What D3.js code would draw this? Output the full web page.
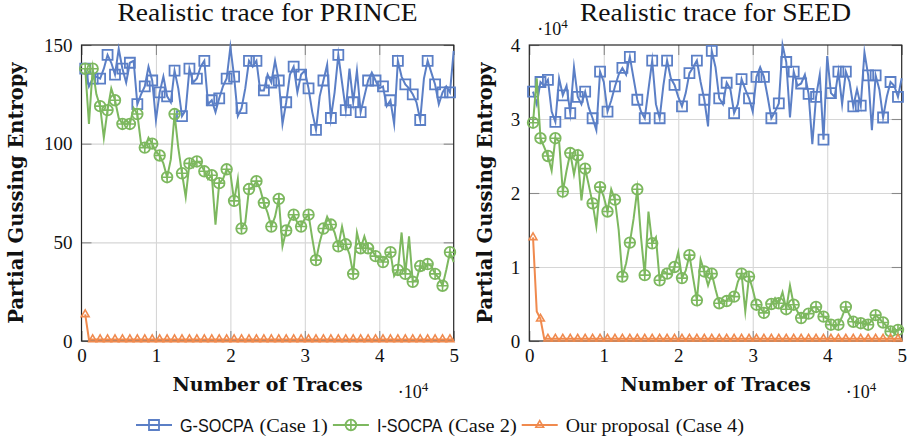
<!DOCTYPE html>
<html>
<head>
<meta charset="utf-8">
<script src="https://cdn.jsdelivr.net/npm/d3@7"></script>
<style>
  body { margin: 0; background: #fff; }
  svg { display: block; }
</style>
</head>
<body>
<svg id="chart" width="911" height="445"></svg>
<script>
// Number of traces at each sample point
const traces = [
  500,1000,1500,2000,2500,3000,3500,4000,4500,5000,
  5500,6000,6500,7000,7500,8000,8500,9000,9500,10000,
  10500,11000,11500,12000,12500,13000,13500,14000,14500,15000,
  15500,16000,16500,17000,17500,18000,18500,19000,19500,20000,
  20500,21000,21500,22000,22500,23000,23500,24000,24500,25000,
  25500,26000,26500,27000,27500,28000,28500,29000,29500,30000,
  30500,31000,31500,32000,32500,33000,33500,34000,34500,35000,
  35500,36000,36500,37000,37500,38000,38500,39000,39500,40000,
  40500,41000,41500,42000,42500,43000,43500,44000,44500,45000,
  45500,46000,46500,47000,47500,48000,48500,49000,49500,50000
];

// PRINCE: partial guessing entropy
const princeGSocpa = [
  138,129,133,134,133,138,145,141,135,148,138,131,141,142,120,125,129,139,132,112,
  126,134,124,121,137,128,114,117,138,131,133,139,142,120,122,116,123,129,133,149,
  134,114,118,128,142,139,142,127,127,135,131,142,132,110,121,135,139,126,135,137,
  128,116,107,124,132,140,113,126,145,131,117,138,121,137,116,124,132,136,132,128,
  129,119,122,110,142,134,130,128,125,121,112,133,142,136,130,120,126,129,126,147
];
const princeISocpa = [
  138,110,138,125,119,103,117,128,122,113,110,112,110,118,115,100,98,103,100,96,
  94,90,83,92,115,98,85,73,90,88,91,90,86,82,84,59,80,82,87,85,
  71,82,57,60,77,78,81,77,70,65,58,63,72,48,56,61,64,60,58,62,
  64,52,41,50,57,63,59,55,48,58,49,44,34,55,47,53,47,46,43,42,
  40,43,45,33,36,55,34,53,30,31,38,36,39,38,34,32,28,36,45,40
];
const princeOurs = [
  13.5,0.8,0.8,0.8,0.8,0.8,0.8,0.8,0.8,0.8,0.8,0.8,0.8,0.8,0.8,0.8,0.8,0.8,0.8,0.8,
  0.8,0.8,0.8,0.8,0.8,0.8,0.8,0.8,0.8,0.8,0.8,0.8,0.8,0.8,0.8,0.8,0.8,0.8,0.8,0.8,
  0.8,0.8,0.8,0.8,0.8,0.8,0.8,0.8,0.8,0.8,0.8,0.8,0.8,0.8,0.8,0.8,0.8,0.8,0.8,0.8,
  0.8,0.8,0.8,0.8,0.8,0.8,0.8,0.8,0.8,0.8,0.8,0.8,0.8,0.8,0.8,0.8,0.8,0.8,0.8,0.8,
  0.8,0.8,0.8,0.8,0.8,0.8,0.8,0.8,0.8,0.8,0.8,0.8,0.8,0.8,0.8,0.8,0.8,0.8,0.8,0.8
];

// SEED: partial guessing entropy, in units of 10^4
const seedGSocpa = [
  3.37,3.2,3.50,3.45,3.53,3.1,2.96,3.55,3.32,3.45,3.08,3.7,3.30,3.2,3.37,3.15,3.01,2.85,3.64,3.5,
  3.10,3.25,3.44,3.6,3.69,3.6,3.84,3.55,3.26,3.1,3.01,3.4,3.79,3.2,3.01,3.45,3.79,3.55,3.46,3.3,
  3.17,3.35,3.62,3.7,3.79,3.5,3.26,2.9,3.92,3.7,3.28,3.2,3.49,3.4,3.08,3.2,3.54,3.4,3.28,3.1,
  3.57,3.7,3.57,3.3,3.01,3.1,3.21,4.0,3.77,3.02,3.64,3.45,3.48,3.6,3.34,2.66,3.30,3.6,2.72,3.85,
  3.35,3.3,3.64,3.2,3.64,3.5,3.17,3.4,3.18,3.9,3.59,2.85,3.59,3.4,3.02,3.3,3.50,3.45,3.30,3.55
];
const seedISocpa = [
  2.95,3.55,2.74,2.62,2.50,2.3,2.74,2.7,2.02,2.3,2.54,2.25,2.51,1.9,2.33,2.1,1.86,1.55,2.08,1.95,
  1.75,2.05,1.91,1.5,0.87,1.05,1.33,1.65,2.05,1.4,0.89,1.75,1.32,1.4,0.82,0.95,0.91,0.9,1.00,1.2,
  0.85,0.95,1.16,0.85,0.55,1.1,0.94,0.75,0.91,0.7,0.51,0.55,0.54,0.62,0.60,0.8,0.91,0.4,0.87,0.7,
  0.49,0.45,0.38,0.42,0.50,0.58,0.51,0.66,0.43,0.75,0.49,0.4,0.31,0.34,0.37,0.45,0.46,0.4,0.33,0.3,
  0.22,0.2,0.22,0.33,0.46,0.35,0.26,0.25,0.24,0.28,0.22,0.28,0.35,0.3,0.25,0.2,0.13,0.12,0.15,0.2
];
const seedOurs = [
  1.4,0.4,0.3,0.03,0.03,0.03,0.03,0.03,0.03,0.03,0.03,0.03,0.03,0.03,0.03,0.03,0.03,0.03,0.03,0.03,
  0.03,0.03,0.03,0.03,0.03,0.03,0.03,0.03,0.03,0.03,0.03,0.03,0.03,0.03,0.03,0.03,0.03,0.03,0.03,0.03,
  0.03,0.03,0.03,0.03,0.03,0.03,0.03,0.03,0.03,0.03,0.03,0.03,0.03,0.03,0.03,0.03,0.03,0.03,0.03,0.03,
  0.03,0.03,0.03,0.03,0.03,0.03,0.03,0.03,0.03,0.03,0.03,0.03,0.03,0.03,0.03,0.03,0.03,0.03,0.03,0.03,
  0.03,0.03,0.03,0.03,0.03,0.03,0.03,0.03,0.03,0.03,0.03,0.03,0.03,0.03,0.03,0.03,0.03,0.03,0.03,0.03
];

// Axis ticks
const xTicks = [0, 10000, 20000, 30000, 40000, 50000];
const princeYTicks = [0, 50, 100, 150];
const seedYTicks = [0, 1, 2, 3, 4];

// Series labels
const methodNames = ["G-SOCPA", "I-SOCPA", "Our proposal"];
const methodSans = [true, true, false];
const caseNames = ["(Case 1)", "(Case 2)", "(Case 4)"];
const titles = ["Realistic trace for PRINCE", "Realistic trace for SEED"];

const COLORS = ["#5b7fc6", "#7db85f", "#f08a4e"];
const MARKS = ["square", "oplus", "triangle"];
const SERIF = "'Liberation Serif', serif";
const SERIF_BOLD = "'DejaVu Serif', 'Liberation Serif', serif";
const SANS = "'Liberation Sans', 'DejaVu Sans', sans-serif";

const svg = d3.select("#chart");

// widen/narrow a text run horizontally to the metrics of the document fonts
function stretch(sel, factor) {
  const w = sel.node().getComputedTextLength();
  sel.attr("textLength", w * factor).attr("lengthAdjust", "spacingAndGlyphs");
  return w * factor;
}

function drawMark(g, type, color) {
  if (type === "square") {
    g.append("path").attr("d", d3.symbol(d3.symbolSquare, 100)())
      .attr("fill", "none").attr("stroke", color).attr("stroke-width", 1.8);
  } else if (type === "oplus") {
    const r = 5.3;
    g.append("circle").attr("r", r)
      .attr("fill", "none").attr("stroke", color).attr("stroke-width", 1.8);
    g.append("path").attr("d", `M${-r},0H${r}M0,${-r}V${r}`)
      .attr("fill", "none").attr("stroke", color).attr("stroke-width", 1.6);
  } else {
    g.append("path").attr("d", d3.symbol(d3.symbolTriangle, 26)())
      .attr("fill", "none").attr("stroke", color).attr("stroke-width", 1.6);
  }
}

function panel(opts) {
  const { left, right, top, bottom, yDomain, yTicks, series, title, yExp, ylabelX } = opts;
  const x = d3.scaleLinear().domain([0, 50000]).range([left, right]);
  const y = d3.scaleLinear().domain(yDomain).range([bottom, top]);
  const g = svg.append("g");

  // grid
  g.append("g").attr("transform", `translate(0,${bottom})`)
    .call(d3.axisBottom(x).tickValues(xTicks.slice(1, -1)).tickSize(-(bottom - top)).tickFormat(""))
    .call(a => a.select(".domain").remove())
    .call(a => a.selectAll("line").attr("stroke", "#d6d6d6").attr("stroke-width", 1.1));
  g.append("g").attr("transform", `translate(${left},0)`)
    .call(d3.axisLeft(y).tickValues(yTicks.slice(1, -1)).tickSize(-(right - left)).tickFormat(""))
    .call(a => a.select(".domain").remove())
    .call(a => a.selectAll("line").attr("stroke", "#d6d6d6").attr("stroke-width", 1.1));

  // inner tick marks on all sides, labels on bottom/left
  const tickStyle = a => {
    a.select(".domain").remove();
    a.selectAll("line").attr("stroke", "#8a8a8a").attr("stroke-width", 1.1);
    a.selectAll("text").attr("font-family", SERIF).attr("font-size", 19).attr("fill", "#111");
  };
  g.append("g").attr("transform", `translate(0,${bottom})`)
    .call(d3.axisBottom(x).tickValues(xTicks).tickSizeInner(-10).tickSizeOuter(0).tickPadding(7.5)
      .tickFormat(d => d / 10000))
    .call(tickStyle);
  g.append("g").attr("transform", `translate(0,${top})`)
    .call(d3.axisTop(x).tickValues(xTicks).tickSizeInner(-10).tickSizeOuter(0).tickFormat(""))
    .call(tickStyle);
  g.append("g").attr("transform", `translate(${left},0)`)
    .call(d3.axisLeft(y).tickValues(yTicks).tickSizeInner(-10).tickSizeOuter(0).tickPadding(9)
      .tickFormat(d => String(d)))
    .call(tickStyle);
  g.append("g").attr("transform", `translate(${right},0)`)
    .call(d3.axisRight(y).tickValues(yTicks).tickSizeInner(-10).tickSizeOuter(0).tickFormat(""))
    .call(tickStyle);

  // frame
  g.append("rect").attr("x", left).attr("y", top).attr("width", right - left).attr("height", bottom - top)
    .attr("fill", "none").attr("stroke", "#262626").attr("stroke-width", 1.2);

  // series
  const line = d3.line().x(d => x(d[0])).y(d => y(d[1]));
  series.forEach((vals, si) => {
    const pts = traces.map((t, i) => [t, vals[i]]);
    const sg = g.append("g");
    sg.append("path").datum(pts).attr("d", line)
      .attr("fill", "none").attr("stroke", COLORS[si]).attr("stroke-width", 2)
      .attr("stroke-linejoin", "miter").attr("stroke-miterlimit", 10);
    pts.filter((p, i) => i % 2 === 0).forEach(p => {
      const mg = sg.append("g").attr("transform", `translate(${x(p[0])},${y(p[1])})`);
      drawMark(mg, MARKS[si], COLORS[si]);
    });
  });

  // title
  const cx = (left + right) / 2;
  const tt = svg.append("text").attr("x", cx).attr("y", 21).attr("text-anchor", "middle")
    .attr("font-family", SERIF).attr("font-size", 25).attr("fill", "#111").text(title);
  stretch(tt, 1.10);

  // axis labels
  svg.append("text").attr("x", cx).attr("y", 391).attr("text-anchor", "middle")
    .attr("font-family", SERIF_BOLD).attr("font-weight", "bold").attr("font-size", 19).attr("fill", "#111")
    .text("Number of Traces");
  svg.append("text").attr("transform", `translate(${ylabelX},${(top + bottom) / 2}) rotate(-90)`)
    .attr("text-anchor", "middle")
    .attr("font-family", SERIF_BOLD).attr("font-weight", "bold").attr("font-size", 19.5).attr("fill", "#111")
    .text("Partial Gussing Entropy");

  // ×10^4 multipliers
  const mult = (px, py) => {
    const t = svg.append("text").attr("x", px).attr("y", py)
      .attr("font-family", SERIF).attr("font-size", 18).attr("fill", "#111");
    t.append("tspan").text("\u00b710");
    t.append("tspan").attr("dy", -7).attr("font-size", 13).text("4");
  };
  mult(right - 56, 398);
  if (yExp) mult(left + 8, 35);
}

panel({ left: 81.5, right: 453.7, top: 45, bottom: 341, yDomain: [0, 150], yTicks: princeYTicks,
  series: [princeGSocpa, princeISocpa, princeOurs], title: titles[0], yExp: false, ylabelX: 23 });
panel({ left: 529.3, right: 901.7, top: 45, bottom: 341, yDomain: [0, 4], yTicks: seedYTicks,
  series: [seedGSocpa, seedISocpa, seedOurs], title: titles[1], yExp: true, ylabelX: 492 });

// legend
const legend = svg.append("g");
let cursor = 136;
const ly = 425;
methodNames.forEach((name, i) => {
  const item = legend.append("g").attr("transform", `translate(${cursor},0)`);
  item.append("line").attr("x1", 0).attr("x2", 36).attr("y1", ly).attr("y2", ly)
    .attr("stroke", COLORS[i]).attr("stroke-width", 2);
  drawMark(item.append("g").attr("transform", `translate(18,${ly})`), MARKS[i], COLORS[i]);
  const t1 = item.append("text").attr("x", 44).attr("y", ly + 6.5)
    .attr("font-family", methodSans[i] ? SANS : SERIF)
    .attr("font-size", 18).attr("fill", "#111").text(name);
  const w1 = stretch(t1, methodSans[i] ? 0.9 : 1.1);
  const gap = 6;
  const t2 = item.append("text").attr("x", 44 + w1 + gap).attr("y", ly + 6.5)
    .attr("font-family", SERIF).attr("font-size", 18.5).attr("fill", "#111").text(caseNames[i]);
  const w2 = stretch(t2, 1.1);
  cursor += 44 + w1 + gap + w2 + 5;
});
</script>
</body>
</html>
